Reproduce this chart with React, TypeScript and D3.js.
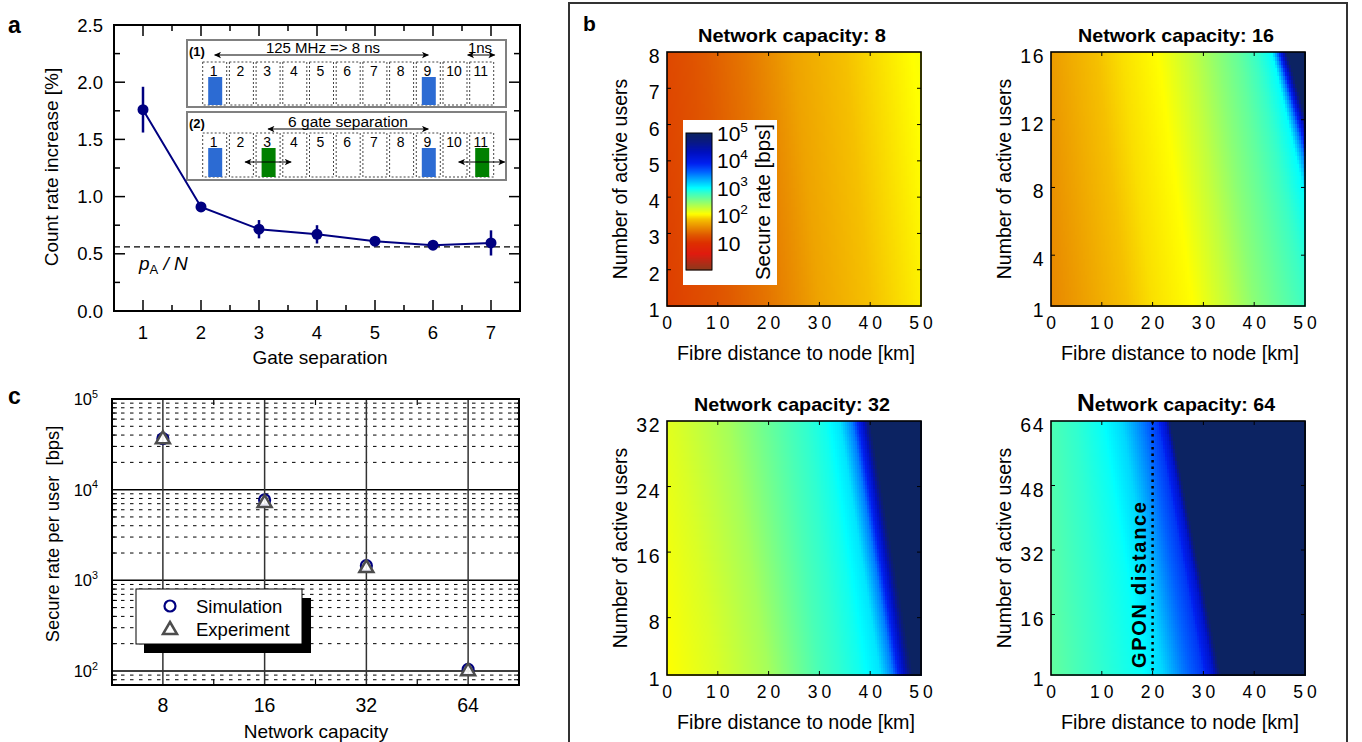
import React from "react";
import * as d3 from "d3";

const FONT = "'Liberation Sans', Arial, Helvetica, sans-serif";

// ---------- panel a : count rate increase vs gate separation ----------
const gateSeparation = [1, 2, 3, 4, 5, 6, 7];
const countRateIncrease = [1.76, 0.91, 0.715, 0.67, 0.61, 0.575, 0.595];
const countRateError = [0.2, 0.04, 0.08, 0.08, 0.035, 0.03, 0.11];
const pAOverN = 0.56;
const gates = [1, 2, 3, 4, 5, 6, 7, 8, 9, 10, 11];
const bluePulses = [1, 9];
const greenPulses = [3, 11];

// ---------- panel c : secure rate per user ----------
const networkCapacity = [8, 16, 32, 64];
const simulationRate = [36500, 7700, 1450, 104];
const experimentRate = [37000, 7300, 1400, 102];

// ---------- panel b : secure rate maps ----------
const fibreTicks = [0, 10, 20, 30, 40, 50];
const userTicks8 = [1, 2, 3, 4, 5, 6, 7, 8];
const userTicks16 = [1, 4, 8, 12, 16];
const userTicks32 = [1, 8, 16, 24, 32];
const userTicks64 = [1, 16, 32, 48, 64];
const colorbarTicks = [1, 2, 3, 4, 5];

// iso-rate contours: log10 rate levels, and the fibre
// distance (km) where each level lies with 1 active user / with all users
const levels8 = [1.0, 1.1, 1.25, 1.45, 1.7, 1.85, 2.0, 2.15];
const dist1User8 = [-8, 0, 10, 20, 30, 40, 50, 60];
const distFull8 = [-13, -5, 5, 15, 25, 35, 45, 55];

const levels16 = [1.4, 1.55, 1.75, 1.95, 2.05, 2.3, 2.5, 2.65, 2.8, 3.0, 3.5, 4.2, 5.0];
const dist1User16 = [-8, 0, 10, 20, 28, 35, 40, 45, 50, 55, 57.5, 59.5, 61];
const distFull16 = [-13, -5, 4, 14, 21, 28, 33, 37, 40, 43.5, 44.5, 45.5, 46.5];

const levels32 = [1.95, 2.05, 2.2, 2.4, 2.75, 2.95, 3.1, 3.5, 4.2, 5.0];
const dist1User32 = [-5, 0, 10, 20, 30, 38, 42, 44.5, 46.5, 48.5];
const distFull32 = [-12, -7, 2, 12, 24, 31, 34, 36.5, 38.5, 40];

const levels64 = [2.5, 2.65, 2.85, 2.98, 3.15, 3.5, 3.8, 4.2, 5.0];
const dist1User64 = [-6, 0, 10, 18, 22, 26, 30, 32, 33.5];
const distFull64 = [-10, -4, 5, 10, 14, 18, 21, 22.5, 23.5];

const gponDistance = 20;

// colormap (log10 rate -> colour), jet-like as in the colour bar
const cmapLevels = [0, 0.6, 1.0, 1.3, 1.6, 1.85, 2.05, 2.3, 2.6, 2.85, 3.0, 3.3, 3.6, 3.9, 4.3, 4.7, 5.0];
const cmapColors = ["#8b3b1d", "#e01b10", "#dd3000", "#e05a00", "#ea9000", "#f5c000", "#ffff00", "#c0ff40",
  "#70ff90", "#30ffd0", "#00ffff", "#00b0ff", "#0060ff", "#0020f0", "#0010c0", "#0a1a80", "#0c2362"];
const cmap = d3.scaleLinear<string>().domain(cmapLevels).range(cmapColors).clamp(true);

function rateAt(levels: number[], dLow: number[], dHigh: number[], d: number, f: number) {
  const ds = dLow.map((v, i) => v + (dHigh[i] - v) * f);
  if (d <= ds[0]) return levels[0];
  for (let i = 1; i < ds.length; i++) {
    if (d <= ds[i]) return levels[i - 1] + ((levels[i] - levels[i - 1]) * (d - ds[i - 1])) / (ds[i] - ds[i - 1]);
  }
  return levels[levels.length - 1];
}

const Sup = ({ base, exp, size }: { base: string; exp: number; size: number }) => (
  <>
    {base}
    <tspan dy={-size * 0.45} fontSize={size * 0.65}>{exp}</tspan>
  </>
);

function PanelA() {
  const x = d3.scaleLinear().domain([0.5, 7.5]).range([114, 520]);
  const y = d3.scaleLinear().domain([0, 2.5]).range([311, 25]);
  const line = d3.line<number>().x((d) => x(d)).y((_, i) => y(countRateIncrease[i]));
  const majorX = gateSeparation;
  const minorX = d3.range(1.5, 7, 1);
  const majorY = [0.5, 1, 1.5, 2];
  const minorY = [0.25, 0.75, 1.25, 1.75, 2.25];
  const gx = d3.scaleLinear().domain([1, 11]).range([202.7, 469.7]);
  const gw = 24;
  const rows = [
    { top: 62, bottom: 105, bar: 77, num: 71 },
    { top: 133, bottom: 177, bar: 148, num: 142 },
  ];
  return (
    <g fontFamily={FONT}>
      <text x={8} y={33} fontSize={23} fontWeight="bold">a</text>
      {/* ticks */}
      {majorX.map((v) => (
        <g key={"mx" + v}>
          <line x1={x(v)} x2={x(v)} y1={311} y2={300} stroke="#000" strokeWidth={1.5} />
          <line x1={x(v)} x2={x(v)} y1={25} y2={36} stroke="#000" strokeWidth={1.5} />
          <text x={x(v)} y={339} fontSize={18.5} textAnchor="middle">{v}</text>
        </g>
      ))}
      {minorX.map((v) => (
        <g key={"nx" + v}>
          <line x1={x(v)} x2={x(v)} y1={311} y2={305} stroke="#000" strokeWidth={1.5} />
          <line x1={x(v)} x2={x(v)} y1={25} y2={31} stroke="#000" strokeWidth={1.5} />
        </g>
      ))}
      {majorY.map((v) => (
        <g key={"my" + v}>
          <line x1={114} x2={125} y1={y(v)} y2={y(v)} stroke="#000" strokeWidth={1.5} />
          <line x1={520} x2={509} y1={y(v)} y2={y(v)} stroke="#000" strokeWidth={1.5} />
        </g>
      ))}
      {minorY.map((v) => (
        <g key={"ny" + v}>
          <line x1={114} x2={120} y1={y(v)} y2={y(v)} stroke="#000" strokeWidth={1.5} />
          <line x1={520} x2={514} y1={y(v)} y2={y(v)} stroke="#000" strokeWidth={1.5} />
        </g>
      ))}
      {[0, 0.5, 1, 1.5, 2, 2.5].map((v) => (
        <text key={"ly" + v} x={103} y={y(v) + 6.6} fontSize={18.5} textAnchor="end">{v.toFixed(1)}</text>
      ))}
      <rect x={114} y={25} width={406} height={286} fill="none" stroke="#000" strokeWidth={2} />
      <line x1={114} x2={520} y1={y(pAOverN)} y2={y(pAOverN)} stroke="#000" strokeWidth={1.3} strokeDasharray="6,4" />
      <text x={139} y={270} fontSize={19} fontStyle="italic">
        p<tspan fontStyle="normal" fontSize={13} dy={4}>A</tspan>
        <tspan dy={-4}> / N</tspan>
      </text>
      {/* inset */}
      <rect x={187} y={40} width={319} height={67} fill="#fff" stroke="#808080" strokeWidth={2} />
      <rect x={187} y={112} width={319} height={68} fill="#fff" stroke="#808080" strokeWidth={2} />
      {rows.map((r, ri) => (
        <g key={"row" + ri}>
          {gates.map((g) => (
            <g key={g}>
              <rect x={gx(g)} y={r.top} width={gw} height={r.bottom - r.top} fill="none" stroke="#444" strokeWidth={1} strokeDasharray="2,2" />
              <text x={gx(g) + gw / 2 - 1} y={r.num + 5} fontSize={14} textAnchor="middle">{g}</text>
            </g>
          ))}
          {bluePulses.map((g) => (
            <rect key={"b" + g} x={gx(g) + 5.5} y={r.bar} width={14} height={r.bottom - r.bar} fill="#2c6bd3" />
          ))}
        </g>
      ))}
      {greenPulses.map((g) => (
        <g key={"g" + g}>
          <rect x={gx(g) + 5.5} y={rows[1].bar} width={14} height={rows[1].bottom - rows[1].bar} fill="#008000" />
          <line x1={gx(g) + gw / 2 - 23} x2={gx(g) + gw / 2 + 23} y1={162} y2={162} stroke="#000" strokeWidth={1} markerStart="url(#arr)" markerEnd="url(#arr)" />
        </g>
      ))}
      <text x={189} y={56} fontSize={13} fontWeight="bold">(1)</text>
      <text x={189} y={128} fontSize={13} fontWeight="bold">(2)</text>
      <text x={323} y={53} fontSize={15} textAnchor="middle">125 MHz =&gt; 8 ns</text>
      <line x1={gx(1) + gw / 2} x2={gx(9) + gw / 2} y1={55} y2={55} stroke="#000" strokeWidth={1} markerStart="url(#arr)" markerEnd="url(#arr)" />
      <text x={480} y={53} fontSize={15} textAnchor="middle">1ns</text>
      <line x1={gx(11) - 2} x2={gx(11) + gw + 1} y1={55} y2={55} stroke="#000" strokeWidth={1} markerStart="url(#arr)" markerEnd="url(#arr)" />
      <text x={348} y={127} fontSize={15.5} textAnchor="middle">6 gate separation</text>
      <line x1={gx(3) + gw / 2} x2={gx(9) + gw / 2} y1={129} y2={129} stroke="#000" strokeWidth={1} markerStart="url(#arr)" markerEnd="url(#arr)" />
      {/* data */}
      <path d={line(gateSeparation) || ""} fill="none" stroke="#000080" strokeWidth={2} />
      {gateSeparation.map((g, i) => (
        <g key={"p" + g}>
          <line x1={x(g)} x2={x(g)} y1={y(countRateIncrease[i] - countRateError[i])} y2={y(countRateIncrease[i] + countRateError[i])} stroke="#000080" strokeWidth={2.5} />
          <circle cx={x(g)} cy={y(countRateIncrease[i])} r={5.5} fill="#000080" />
        </g>
      ))}
      <text transform="translate(58,167) rotate(-90)" fontSize={19} textAnchor="middle">Count rate increase [%]</text>
      <text x={320} y={364} fontSize={19} textAnchor="middle">Gate separation</text>
    </g>
  );
}

function PanelC() {
  const x = d3.scaleLog().base(2).domain([2 ** 2.5, 2 ** 6.5]).range([112, 519]);
  const y = d3.scaleLog().domain([70, 1e5]).range([685, 399]);
  const decades = [100, 1000, 10000];
  const minor: number[] = [];
  [10, 100, 1000, 10000].forEach((b) => d3.range(2, 10).forEach((m) => { const v = b * m; if (v > 70 && v < 1e5) minor.push(v); }));
  const midX = [2 ** 3.5, 2 ** 4.5, 2 ** 5.5];
  const tri = (cx: number, cy: number) => `M${cx},${cy - 7} L${cx + 7},${cy + 5} L${cx - 7},${cy + 5} Z`;
  return (
    <g fontFamily={FONT}>
      <text x={8} y={404} fontSize={23} fontWeight="bold">c</text>
      {minor.map((v) => (
        <g key={"m" + v}>
          <line x1={112} x2={519} y1={y(v)} y2={y(v)} stroke="#000" strokeWidth={1} strokeDasharray="3.5,5.5" />
          <line x1={112} x2={117} y1={y(v)} y2={y(v)} stroke="#000" strokeWidth={1} />
          <line x1={519} x2={514} y1={y(v)} y2={y(v)} stroke="#000" strokeWidth={1} />
        </g>
      ))}
      {decades.map((v) => (
        <line key={"d" + v} x1={112} x2={519} y1={y(v)} y2={y(v)} stroke="#000" strokeWidth={1.5} />
      ))}
      {networkCapacity.map((c) => (
        <line key={"v" + c} x1={x(c)} x2={x(c)} y1={399} y2={685} stroke="#333" strokeWidth={1.5} />
      ))}
      {midX.map((v) => (
        <g key={"t" + v}>
          <line x1={x(v)} x2={x(v)} y1={399} y2={405} stroke="#000" strokeWidth={1.2} />
          <line x1={x(v)} x2={x(v)} y1={685} y2={679} stroke="#000" strokeWidth={1.2} />
        </g>
      ))}
      <rect x={112} y={399} width={407} height={286} fill="none" stroke="#000" strokeWidth={2} />
      {[100, 1000, 10000, 100000].map((v) => (
        <text key={"yl" + v} x={98} y={y(v) + 6} fontSize={16.5} textAnchor="end">
          <Sup base="10" exp={Math.round(Math.log10(v))} size={16.5} />
        </text>
      ))}
      {networkCapacity.map((c) => (
        <text key={"xl" + c} x={x(c)} y={712} fontSize={19.5} textAnchor="middle">{c}</text>
      ))}
      {networkCapacity.map((c, i) => (
        <g key={"pt" + c}>
          <circle cx={x(c)} cy={y(simulationRate[i])} r={5.5} fill="none" stroke="#000080" strokeWidth={2.2} />
          <path d={tri(x(c), y(experimentRate[i]))} fill="#fff" fillOpacity={0.9} stroke="#4d4d4d" strokeWidth={2.5} />
        </g>
      ))}
      {/* legend */}
      <rect x={144} y={598} width={167} height={55} fill="#000" />
      <rect x={136} y={589} width={166} height={55} fill="#fff" stroke="#000" strokeWidth={1} />
      <circle cx={170} cy={606} r={5.5} fill="none" stroke="#000080" strokeWidth={2.2} />
      <path d={tri(170, 629)} fill="#fff" stroke="#4d4d4d" strokeWidth={2.5} />
      <text x={196} y={613} fontSize={18.5}>Simulation</text>
      <text x={196} y={636} fontSize={18.5}>Experiment</text>
      <text transform="translate(59,534) rotate(-90)" fontSize={18.3} textAnchor="middle" style={{ whiteSpace: "pre" }}>
        Secure rate per user  [bps]
      </text>
      <text x={316} y={738} fontSize={19} textAnchor="middle">Network capacity</text>
    </g>
  );
}

type HeatProps = {
  x0: number; y0: number; maxUsers: number; userTicks: number[];
  levels: number[]; dLow: number[]; dHigh: number[]; cap: string; titleLen: number;
  bigN?: boolean; gpon?: boolean;
};

function Heatmap({ x0, y0, maxUsers, userTicks, levels, dLow, dHigh, cap, titleLen, bigN, gpon }: HeatProps) {
  const w = 254, h = 254;
  const xs = d3.scaleLinear().domain([0, 50]).range([x0, x0 + w]);
  const ys = d3.scaleLinear().domain([1, maxUsers]).range([y0 + h, y0]);
  const nCols = 127, nRows = 64;
  const colEdges = d3.range(nCols + 1).map((i) => (50 * i) / nCols);
  const rowEdges = d3.range(nRows + 1).map((j) => 1 + ((maxUsers - 1) * j) / nRows);
  const cells: React.ReactNode[] = [];
  for (let j = 0; j < nRows; j++) {
    const um = (rowEdges[j] + rowEdges[j + 1]) / 2;
    const f = (um - 1) / (maxUsers - 1);
    const yTop = ys(rowEdges[j + 1]);
    const hh = ys(rowEdges[j]) - yTop + 0.6;
    for (let i = 0; i < nCols; i++) {
      const dm = (colEdges[i] + colEdges[i + 1]) / 2;
      cells.push(
        <rect key={j * 1000 + i} x={xs(colEdges[i])} y={yTop} width={xs(colEdges[i + 1]) - xs(colEdges[i]) + 0.6} height={hh}
          fill={cmap(rateAt(levels, dLow, dHigh, dm, f))} />
      );
    }
  }
  const cx = x0 + w / 2;
  const innerX = fibreTicks.slice(1, -1);
  const innerY = userTicks.slice(1, -1);
  return (
    <g fontFamily={FONT}>
      <g shapeRendering="crispEdges">{cells}</g>
      {innerX.map((v) => (
        <g key={"tx" + v}>
          <line x1={xs(v)} x2={xs(v)} y1={y0 + h} y2={y0 + h - 4} stroke="#000" strokeWidth={1} />
          <line x1={xs(v)} x2={xs(v)} y1={y0} y2={y0 + 4} stroke="#000" strokeWidth={1} />
        </g>
      ))}
      {innerY.map((v) => (
        <g key={"ty" + v}>
          <line x1={x0} x2={x0 + 4} y1={ys(v)} y2={ys(v)} stroke="#000" strokeWidth={1} />
          <line x1={x0 + w} x2={x0 + w - 4} y1={ys(v)} y2={ys(v)} stroke="#000" strokeWidth={1} />
        </g>
      ))}
      <rect x={x0} y={y0} width={w} height={h} fill="none" stroke="#000" strokeWidth={1.6} />
      {gpon && (
        <g>
          <line x1={xs(gponDistance)} x2={xs(gponDistance)} y1={y0} y2={y0 + h} stroke="#000" strokeWidth={2.5} strokeDasharray="2.5,4" />
          <text transform={`translate(${xs(gponDistance) - 7},${y0 + h - 7}) rotate(-90)`} fontSize={20} fontWeight="bold"
            textLength={166} lengthAdjust="spacing">GPON distance</text>
        </g>
      )}
      {fibreTicks.map((v) => (
        <text key={"lx" + v} x={xs(v) + 2} y={y0 + h + 23} fontSize={17.5} letterSpacing={4} textAnchor="middle">{v}</text>
      ))}
      {userTicks.map((v) => (
        <text key={"ly" + v} x={x0 - 6} y={ys(v) + 11} fontSize={19.5} letterSpacing={1.5} textAnchor="end">{v}</text>
      ))}
      <text x={cx - 2} y={y0 - 10} fontSize={19} fontWeight="bold" textAnchor="middle" textLength={titleLen} lengthAdjust="spacingAndGlyphs">
        {bigN ? <><tspan fontSize={24}>N</tspan>etwork capacity: {cap}</> : `Network capacity: ${cap}`}
      </text>
      <text x={cx + 2} y={y0 + h + 54} fontSize={20} textAnchor="middle" textLength={238} lengthAdjust="spacingAndGlyphs">
        Fibre distance to node [km]
      </text>
      <text transform={`translate(${x0 - 40},${y0 + h / 2}) rotate(-90)`} fontSize={19.5} textAnchor="middle">
        Number of active users
      </text>
    </g>
  );
}

function Colorbar() {
  const y = d3.scaleLinear().domain([0, 5]).range([270, 133]);
  const steps = d3.range(0, 137);
  return (
    <g fontFamily={FONT}>
      <rect x={683} y={120} width={94} height={165} fill="#fff" />
      {steps.map((s) => {
        const v = y.invert(270 - s - 0.5);
        return <rect key={s} x={686} y={270 - s - 1} width={26} height={1.3} fill={cmap(v)} />;
      })}
      <rect x={686} y={133} width={26} height={137} fill="none" stroke="#000" strokeWidth={1} />
      {colorbarTicks.map((t) => (
        <text key={t} x={717} y={y(t) + 8} fontSize={21}>
          {t === 1 ? "10" : <Sup base="10" exp={t} size={21} />}
        </text>
      ))}
      <text transform="translate(770,202) rotate(-90)" fontSize={20.5} textAnchor="middle">Secure rate [bps]</text>
    </g>
  );
}

export default function App() {
  return (
    <svg width={1362} height={742} style={{ position: "absolute", left: 0, top: 0, background: "#fff" }}>
      <defs>
        <marker id="arr" viewBox="0 0 10 10" refX="9" refY="5" markerWidth="8" markerHeight="7" orient="auto-start-reverse" markerUnits="userSpaceOnUse">
          <path d="M0,0.5 L10,5 L0,9.5 L2.5,5 Z" fill="#000" />
        </marker>
      </defs>
      <rect width={1362} height={742} fill="#fff" />
      <PanelA />
      <PanelC />
      <rect x={569} y={3} width={778} height={745} fill="none" stroke="#333" strokeWidth={2} />
      <text x={583} y={31} fontFamily={FONT} fontSize={21} fontWeight="bold">b</text>
      <Heatmap x0={667} y0={52} maxUsers={8} userTicks={userTicks8} levels={levels8} dLow={dist1User8} dHigh={distFull8} cap="8" titleLen={188} />
      <Heatmap x0={1051} y0={52} maxUsers={16} userTicks={userTicks16} levels={levels16} dLow={dist1User16} dHigh={distFull16} cap="16" titleLen={196} />
      <Heatmap x0={667} y0={421} maxUsers={32} userTicks={userTicks32} levels={levels32} dLow={dist1User32} dHigh={distFull32} cap="32" titleLen={196} />
      <Heatmap x0={1051} y0={421} maxUsers={64} userTicks={userTicks64} levels={levels64} dLow={dist1User64} dHigh={distFull64} cap="64" titleLen={198} bigN gpon />
      <Colorbar />
    </svg>
  );
}
